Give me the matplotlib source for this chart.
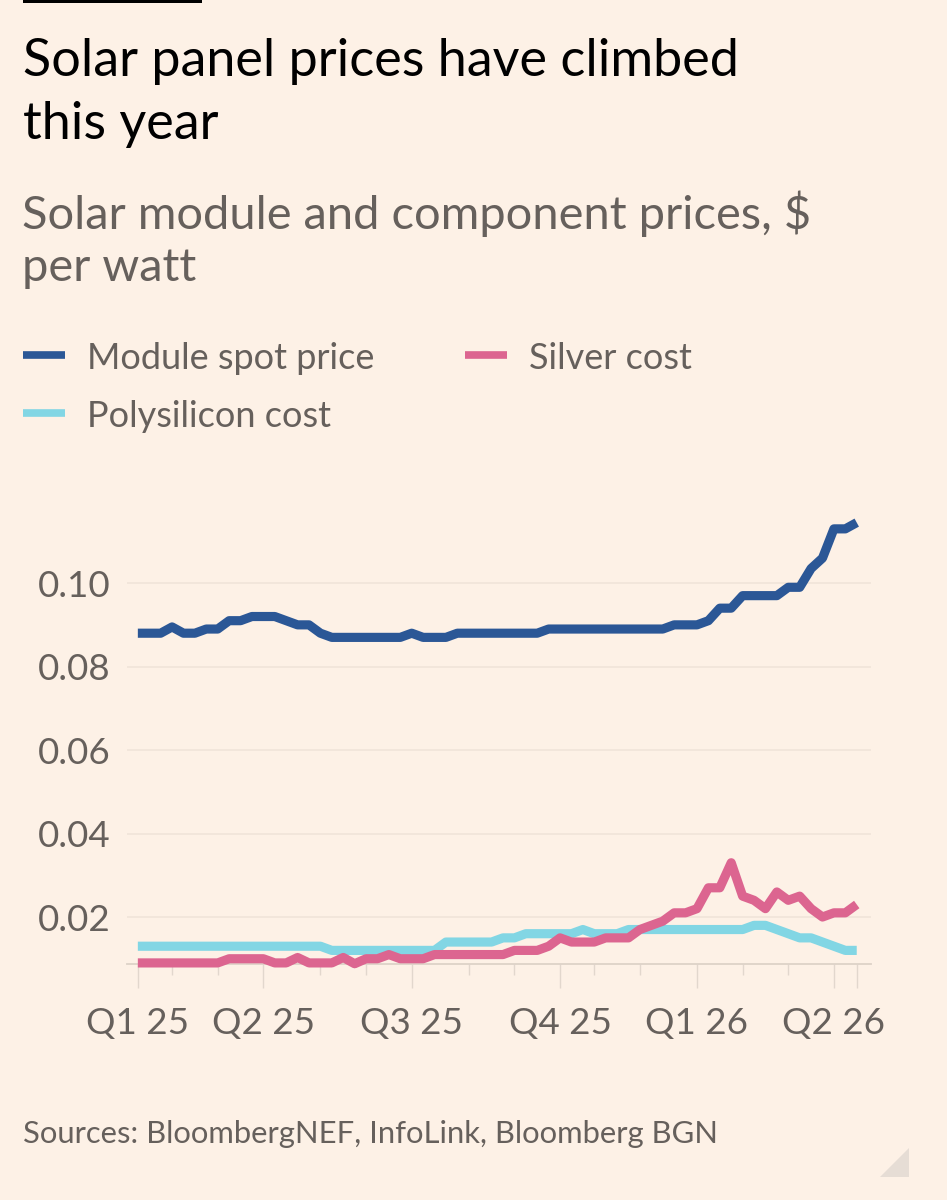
import matplotlib.pyplot as plt
import matplotlib.ticker as ticker
from matplotlib.lines import Line2D
from matplotlib.patches import Rectangle, Polygon

# --- data (weekly observations, x is the observation index) ---
module_price = [
    0.088, 0.088, 0.088, 0.0895, 0.088, 0.088, 0.089, 0.089, 0.091, 0.091,
    0.092, 0.092, 0.092, 0.091, 0.090, 0.090, 0.088, 0.087, 0.087, 0.087,
    0.087, 0.087, 0.087, 0.087, 0.088, 0.087, 0.087, 0.087, 0.088, 0.088,
    0.088, 0.088, 0.088, 0.088, 0.088, 0.088, 0.089, 0.089, 0.089, 0.089,
    0.089, 0.089, 0.089, 0.089, 0.089, 0.089, 0.089, 0.090, 0.090, 0.090,
    0.091, 0.094, 0.094, 0.097, 0.097, 0.097, 0.097, 0.099, 0.099, 0.1035,
    0.106, 0.113, 0.113, 0.1145,
]
silver_cost = [
    0.009, 0.009, 0.009, 0.009, 0.009, 0.009, 0.009, 0.009, 0.010, 0.010,
    0.010, 0.010, 0.009, 0.009, 0.0103, 0.009, 0.009, 0.009, 0.0103, 0.0088,
    0.010, 0.010, 0.011, 0.010, 0.010, 0.010, 0.011, 0.011, 0.011, 0.011,
    0.011, 0.011, 0.011, 0.012, 0.012, 0.012, 0.013, 0.015, 0.014, 0.014,
    0.014, 0.015, 0.015, 0.015, 0.017, 0.018, 0.019, 0.021, 0.021, 0.022,
    0.027, 0.027, 0.033, 0.025, 0.024, 0.022, 0.026, 0.024, 0.025, 0.022,
    0.020, 0.021, 0.021, 0.023,
]
poly_cost = [
    0.013, 0.013, 0.013, 0.013, 0.013, 0.013, 0.013, 0.013, 0.013, 0.013,
    0.013, 0.013, 0.013, 0.013, 0.013, 0.013, 0.013, 0.012, 0.012, 0.012,
    0.012, 0.012, 0.012, 0.012, 0.012, 0.012, 0.012, 0.014, 0.014, 0.014,
    0.014, 0.014, 0.015, 0.015, 0.016, 0.016, 0.016, 0.016, 0.016, 0.017,
    0.016, 0.016, 0.016, 0.017, 0.017, 0.017, 0.017, 0.017, 0.017, 0.017,
    0.017, 0.017, 0.017, 0.017, 0.018, 0.018, 0.017, 0.016, 0.015, 0.015,
    0.014, 0.013, 0.012, 0.012,
]
series_names = ["Module spot price", "Silver cost", "Polysilicon cost"]

# month starts (index of observation) and quarter labels
month_idx = [3, 7, 16, 20, 29, 33, 40, 44, 53, 57]
quarter_idx = [0, 11, 24, 37, 49, 61, 63]
quarter_labels = ["Q1 25", "Q2 25", "Q3 25", "Q4 25", "Q1 26", "Q2 26", ""]
y_ticks = [0.02, 0.04, 0.06, 0.08, 0.10]

# --- styling ---
BG = "#FDF1E6"
GREY = "#66605C"
COLORS = {"Module spot price": "#2B5796",
          "Silver cost": "#DC6590",
          "Polysilicon cost": "#82D6E4"}

plt.rcParams["font.family"] = ["Lato", "DejaVu Sans"]

W, H = 947, 1200


def fx(px):
    return px / W


def fy(py):
    return 1 - py / H


fig = plt.figure(figsize=(W / 100, H / 100), dpi=100, facecolor=BG)

# top black rule
fig.add_artist(Rectangle((fx(23), fy(3)), fx(202) - fx(23), fy(0) - fy(3),
                         transform=fig.transFigure, color="black", lw=0))

# title + subtitle
for i, line in enumerate(["Solar panel prices have climbed", "this year"]):
    fig.text(fx(23), fy(76 + 63 * i), line, fontsize=37.5, color="black",
             va="baseline", ha="left")
for i, line in enumerate(["Solar module and component prices, $", "per watt"]):
    fig.text(fx(22), fy(229 + 52 * i), line, fontsize=33.8, color=GREY,
             va="baseline", ha="left")

# legend drawn by hand to keep FT layout
legend_pos = {"Module spot price": (23, 355),
              "Silver cost": (465, 355),
              "Polysilicon cost": (23, 413)}
for name in series_names:
    lx, ly = legend_pos[name]
    fig.add_artist(Line2D([fx(lx), fx(lx + 42)], [fy(ly), fy(ly)],
                          transform=fig.transFigure, color=COLORS[name],
                          lw=5.5, solid_capstyle="butt"))
    fig.text(fx(lx + 64), fy(ly), name, fontsize=26, color=GREY,
             va="center_baseline", ha="left")

# --- main axes ---
ax = fig.add_axes([fx(127), fy(963.5), fx(871) - fx(127), fy(508) - fy(963.5)])
ax.set_facecolor(BG)

x = list(range(len(module_price)))
ax.plot(x, poly_cost, color=COLORS["Polysilicon cost"], lw=6.6,
        solid_capstyle="butt", clip_on=False, zorder=3)
ax.plot(x, silver_cost, color=COLORS["Silver cost"], lw=6.6,
        solid_capstyle="butt", clip_on=False, zorder=4)
ax.plot(x, module_price, color=COLORS["Module spot price"], lw=6.6,
        solid_capstyle="butt", clip_on=False, zorder=5)

ax.set_xlim(-0.95, 64.25)
ax.set_ylim(0.00886, 0.118)

ax.set_yticks(y_ticks)
ax.yaxis.set_major_formatter(ticker.FormatStrFormatter("%.2f"))
ax.tick_params(axis="y", length=0, pad=12, labelsize=26.5, labelcolor=GREY)
ax.yaxis.grid(True, color="#F1E5DA", lw=1.3)
ax.set_axisbelow(True)

ax.set_xticks(quarter_idx)
ax.set_xticklabels(quarter_labels)
ax.set_xticks(month_idx, minor=True)
ax.tick_params(axis="x", which="major", length=17, width=1.0, color="#E2D7CD",
               pad=14, labelsize=26.5, labelcolor=GREY)
ax.tick_params(axis="x", which="minor", length=8, width=1.0, color="#E2D7CD")

for side in ["top", "right", "left"]:
    ax.spines[side].set_visible(False)
ax.spines["bottom"].set_color("#DDD2C8")
ax.spines["bottom"].set_linewidth(1.3)

# source note
fig.text(fx(23), fy(1131), "Sources: BloombergNEF, InfoLink, Bloomberg BGN",
         fontsize=22.3, color=GREY, va="center_baseline", ha="left")

# resize grip in the bottom corner of the screenshot
fig.add_artist(Polygon([[fx(880), fy(1177)], [fx(909), fy(1177)], [fx(909), fy(1148)]],
                       closed=True, transform=fig.transFigure,
                       facecolor="#E6DDD5", edgecolor="none"))

fig.savefig("out.png", dpi=100, facecolor=BG)
